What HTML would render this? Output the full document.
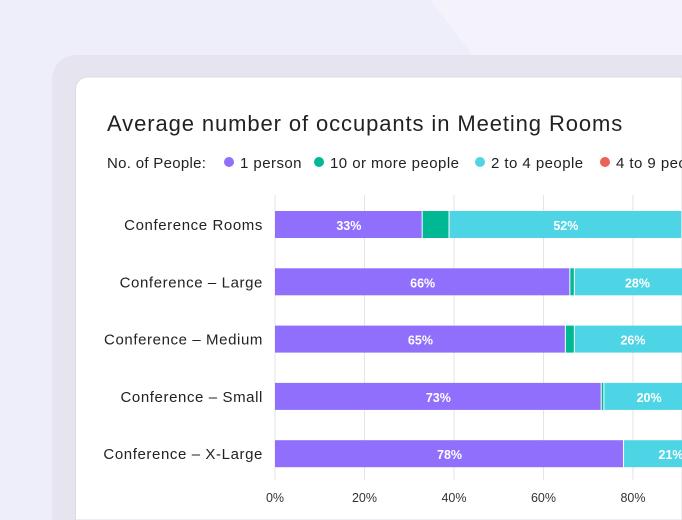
<!DOCTYPE html>
<html><head><meta charset="utf-8"><style>
html,body{margin:0;padding:0;width:682px;height:520px;overflow:hidden;background:#efeefa;font-family:"Liberation Sans",sans-serif;}
svg{display:block;}
</style></head><body>
<svg width="682" height="520" xmlns="http://www.w3.org/2000/svg">
<rect width="682" height="520" fill="#eeedfa"/>
<polygon points="430,0 682,0 682,77 490,77" fill="#f4f3fc"/>
<path d="M52,520 V79 a24,24 0 0 1 24,-24 H682 V520 Z" fill="#e6e5ef"/>
<path d="M75.5,520 V89 a12,12 0 0 1 12,-12 H682 V520 Z" fill="#ffffff" stroke="#dcdbe6"/>
<text x="107" y="131" font-size="22" letter-spacing="0.9" fill="#222">Average number of occupants in Meeting Rooms</text>
<g id="legend"><text x="107" y="168" font-size="15" letter-spacing="0.3" fill="#222">No. of People:</text></g>
<g id="grid"></g><g id="bars"></g><g id="labels"></g>
</svg>
<script>
const categories=["Conference Rooms","Conference – Large","Conference – Medium","Conference – Small","Conference – X-Large"];
const seriesNames=["1 person","10 or more people","2 to 4 people","4 to 9 people"];
const onePerson=[33,66,65,73,78];
const tenPlus=[6,1,2,0.6,0];
const twoToFour=[52,28,26,20,21];
const fourToNine=[9,5,7,6.4,1];
const ticks=[0,20,40,60,80,100];
const colors=["#8f6ffc","#00b894","#4dd5e6","#eb6355"];
const NS="http://www.w3.org/2000/svg";
const x=v=>275+v*4.475;
const y=i=>211+i*57.3;
function mk(t,a,p){const e=document.createElementNS(NS,t);for(const k in a)e.setAttribute(k,a[k]);p.appendChild(e);return e;}
const grid=document.getElementById('grid'),bars=document.getElementById('bars'),labels=document.getElementById('labels'),legend=document.getElementById('legend');
const legendStarts=[224,314,475,600];
seriesNames.forEach((n,i)=>{
 const lx=legendStarts[i];
 const c=mk('circle',{cx:lx+5,cy:162,r:5,fill:colors[i]},legend);
 
 
 const t=mk('text',{x:lx+16,y:168,'font-size':15,'letter-spacing':0.45,fill:'#222'},legend);t.textContent=n;
 
 
});
ticks.forEach(v=>{
 const l=mk('line',{x1:x(v),x2:x(v),y1:195,y2:480,stroke:'#e3e3e8','stroke-width':1},grid);
 
 
 const t=mk('text',{x:x(v),y:502,'font-size':12.5,fill:'#333','text-anchor':'middle'},labels);t.textContent=v+'%';
 
 
});
const series=[onePerson,tenPlus,twoToFour,fourToNine];
categories.forEach((c,i)=>{
 const t=mk('text',{x:263,y:y(i)+19,'font-size':15,'letter-spacing':0.6,fill:'#222','text-anchor':'end'},labels);t.textContent=c;
 
 
 let acc=0;
 series.forEach((s,k)=>{
  const v=s[i];if(v<=0)return;
  const r=mk('rect',{x:x(acc),y:y(i),width:Math.max(v*4.475-1,0.8),height:27,fill:colors[k]},bars);
  
  
  if(v>=10){const tt=mk('text',{x:x(acc+v/2),y:y(i)+19,'font-size':12.5,'font-weight':'bold',fill:'#fff','text-anchor':'middle'},labels);tt.textContent=Math.round(v)+'%';
   
   }
  acc+=v;
 });
});
</script>
</body></html>
